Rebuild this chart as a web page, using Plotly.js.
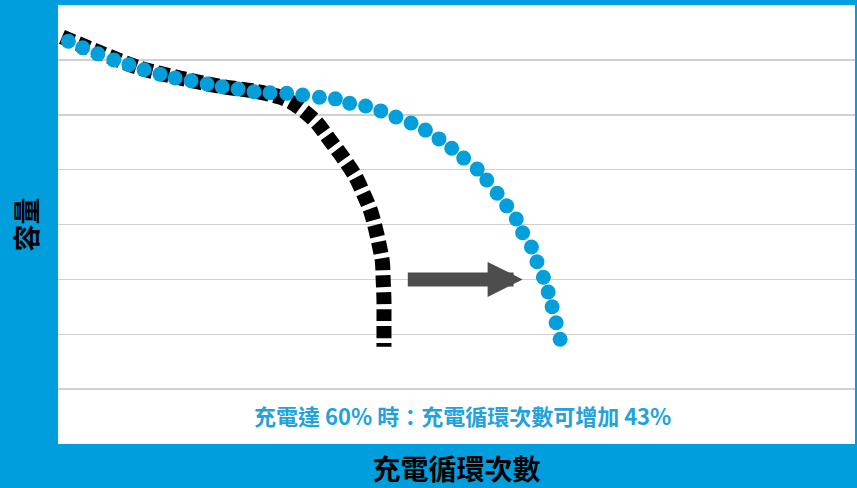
<!DOCTYPE html>
<html>
<head>
<meta charset="utf-8">
<script src="https://cdn.plot.ly/plotly-3.0.1.min.js"></script>
<style>html,body{margin:0;padding:0;background:#009edc;}#chart{width:857px;height:488px;}</style>
</head>
<body>
<div id="chart"></div>
<script>
// Improved charging (to 60%): capacity vs. charge cycles (blue dots)
const cycles60 = [1.3,3.1,5.0,7.0,8.9,10.8,12.8,14.7,16.7,18.7,20.6,22.6,24.6,26.6,28.7,30.7,32.8,34.8,36.6,38.6,40.5,42.4,44.3,46.1,47.8,49.4,50.9,52.6,53.8,55.1,56.3,57.5,58.3,59.4,60.1,60.9,61.5,62.0,62.5,63.0];
const capacity60 = [73.4,72.2,71.1,70.0,69.1,68.2,67.4,66.7,66.2,65.6,65.1,64.7,64.2,64.0,63.9,63.6,63.2,62.9,62.1,61.6,60.7,59.6,58.5,57.2,55.6,53.9,52.1,50.1,48.1,45.7,43.4,41.0,38.5,35.9,33.2,30.4,27.7,25.0,22.1,19.1];
// Standard full charging: capacity vs. charge cycles (black dashes)
const cyclesFull = [0.5,5.3,10.3,15.3,20.3,24.7,27.9,29.5,31.0,32.5,34.1,35.8,37.3,38.3,39.2,39.8,40.3,40.7,40.8,40.9,40.9,40.9];
const capacityFull = [74.2,71.3,68.5,66.7,65.2,64.3,63.2,62.1,60.5,58.5,55.4,52.1,48.8,45.7,42.6,39.5,36.3,33.2,29.9,26.2,22.6,17.7];

const xTitle = '充電循環次數';
const yTitle = '容量';
const note = '充電達 60% 時：充電循環次數可增加 43%';

const cjk = '"Noto Sans CJK TC", "Noto Sans CJK SC", sans-serif';
const blue = '#049fda';

const traces = [
  {
    x: cyclesFull, y: capacityFull, type: 'scatter', mode: 'lines',
    line: {color: '#000000', width: 15, dash: '12px,5px', shape: 'spline', smoothing: 0.8},
    hoverinfo: 'skip'
  },
  {
    x: cycles60, y: capacity60, type: 'scatter', mode: 'markers',
    marker: {color: blue, size: 15, line: {width: 0}},
    hoverinfo: 'skip'
  }
];

const layout = {
  width: 857, height: 488,
  margin: {l: 58, r: 2, t: 5, b: 44, pad: 0},
  paper_bgcolor: '#009edc',
  plot_bgcolor: '#ffffff',
  showlegend: false,
  xaxis: {
    range: [0, 100], showgrid: false, zeroline: false, showticklabels: false,
    ticks: '', showline: false, fixedrange: true,
    title: {text: xTitle, font: {family: cjk, size: 28, color: '#000000', weight: 'bold'}, standoff: 16}
  },
  yaxis: {
    range: [0, 80], dtick: 10, tick0: 0, showgrid: true, gridcolor: '#d0d0d0', gridwidth: 1.5,
    zeroline: false, showticklabels: false, ticks: '', showline: false, fixedrange: true,
    title: {text: yTitle, font: {family: cjk, size: 27, color: '#000000', weight: 'bold'}, standoff: 11}
  },
  annotations: [
    {
      x: 58.3, y: 30, ax: 43.7, ay: 30, xref: 'x', yref: 'y', axref: 'x', ayref: 'y',
      text: '', showarrow: true, arrowhead: 2, arrowsize: 0.5, arrowwidth: 14,
      arrowcolor: '#4d4d4d', standoff: 0, startstandoff: 0
    },
    {
      x: 0.507, y: 5.3, xref: 'paper', yref: 'y', showarrow: false,
      text: note, font: {family: cjk, size: 22, color: '#22a2dc', weight: 'bold'},
      xanchor: 'center', yanchor: 'middle'
    }
  ]
};

Plotly.newPlot('chart', traces, layout, {displayModeBar: false, staticPlot: true});
</script>
</body>
</html>
